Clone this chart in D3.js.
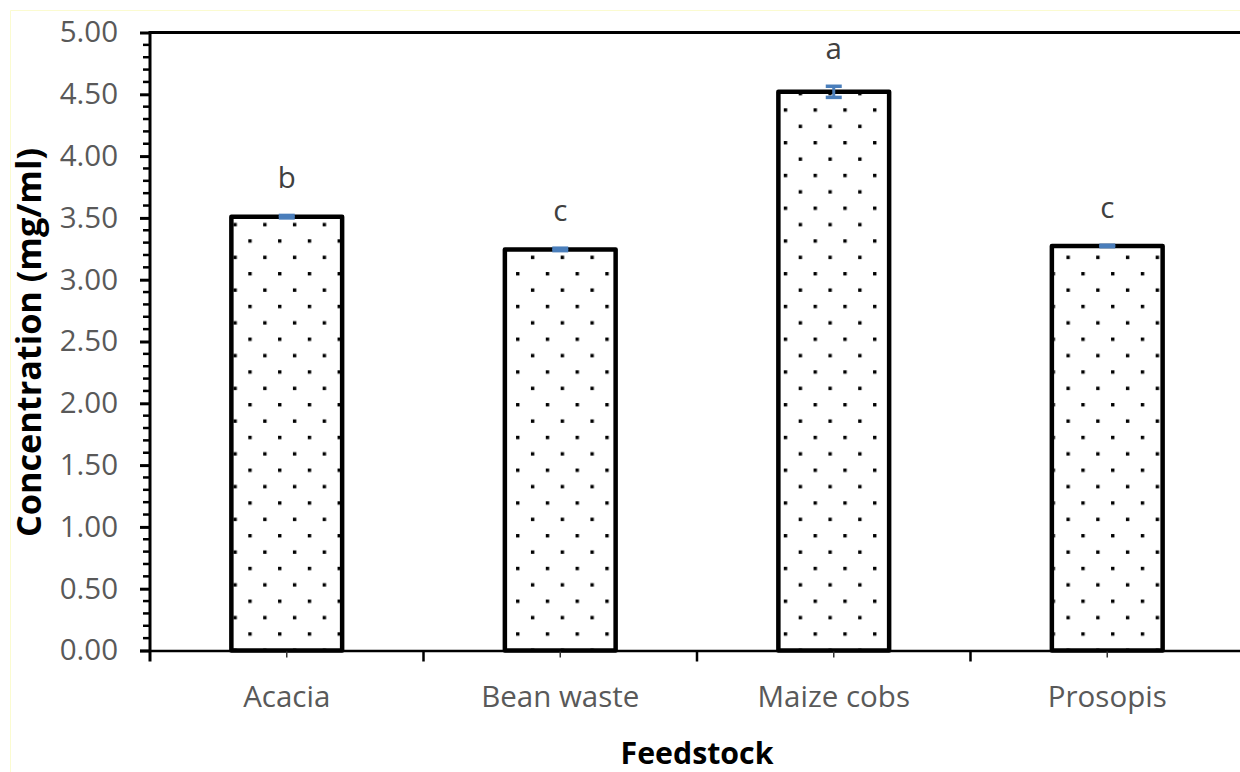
<!DOCTYPE html>
<html>
<head>
<meta charset="utf-8">
<script src="https://cdn.jsdelivr.net/npm/d3@7"></script>
<style>
    html, body { margin: 0; padding: 0; background: #fff; }
    svg { display: block; }
    svg text { font-family: "Open Sans", "Noto Sans", sans-serif; }
</style>
</head>
<body>
<svg id="chart" width="1240" height="772"></svg>
<script>
// Data
const feedstocks = ['Acacia', 'Bean waste', 'Maize cobs', 'Prosopis'];
const concentration = [3.51, 3.245, 4.52, 3.273];
const errors = [0.01, 0.01, 0.045, 0.006];
const letters = ['b', 'c', 'a', 'c'];
const yTicks = [0, 0.5, 1, 1.5, 2, 2.5, 3, 3.5, 4, 4.5, 5];

const margin = { top: 32.5, left: 150 };
const plotH = 618;
const bandW = 273.5;
const labelSize = '29.5px';

const svg = d3.select('#chart');

// shrink/grow a text so it spans the given width
function fitWidth(sel, width) {
    const node = sel.node();
    const size = parseFloat(sel.style('font-size'));
    const len = node.getComputedTextLength();
    sel.style('font-size', (size * width / len).toFixed(2) + 'px');
}

// faint yellow frame of the pasted picture
svg.append('path')
    .attr('d', 'M10.5,772 V10.5 H1240')
    .attr('fill', 'none')
    .attr('stroke', '#fbfbd0')
    .attr('stroke-width', 1);

const x = d3.scaleBand()
    .domain(feedstocks)
    .range([margin.left, margin.left + bandW * feedstocks.length])
    .padding(0);

const y = d3.scaleLinear()
    .domain([0, 5])
    .range([margin.top + plotH, margin.top]);

const barW = x.bandwidth() * 0.405;

// dotted fill pattern
const defs = svg.append('defs');
const pat = defs.append('pattern')
    .attr('id', 'dots')
    .attr('patternUnits', 'userSpaceOnUse')
    .attr('x', 248.3)
    .attr('y', 108.3)
    .attr('width', 29.75)
    .attr('height', 32.75);
pat.append('rect').attr('x', 0).attr('y', 0).attr('width', 3.4).attr('height', 3.4).attr('fill', '#000');
pat.append('rect').attr('x', 14.875).attr('y', 16.375).attr('width', 3.4).attr('height', 3.4).attr('fill', '#000');

// top border of plot area
svg.append('line')
    .attr('x1', margin.left).attr('x2', 1240)
    .attr('y1', y(5)).attr('y2', y(5))
    .attr('stroke', '#000').attr('stroke-width', 3);

// minor y ticks
const minor = d3.range(0, 51).map(d => d / 10).filter(d => Math.round(d * 10) % 5 !== 0);
svg.append('g')
    .selectAll('line')
    .data(minor)
    .join('line')
    .attr('x1', margin.left - 7).attr('x2', margin.left)
    .attr('y1', d => y(d)).attr('y2', d => y(d))
    .attr('stroke', '#000').attr('stroke-width', 2.5);

// major y axis
const yAxis = svg.append('g')
    .attr('transform', `translate(${margin.left},0)`)
    .call(d3.axisLeft(y).tickValues(yTicks).tickFormat(d3.format('.2f')).tickSize(10).tickPadding(22));
yAxis.attr('font-family', null).attr('font-size', null);
yAxis.select('.domain').remove();
yAxis.selectAll('.tick line').attr('stroke', '#000').attr('stroke-width', 3);
yAxis.selectAll('.tick text')
    .attr('fill', '#595959')
    .style('font-size', labelSize);

// bars
svg.append('g')
    .selectAll('rect')
    .data(feedstocks)
    .join('rect')
    .attr('x', d => x(d) + (x.bandwidth() - barW) / 2)
    .attr('y', (d, i) => y(concentration[i]))
    .attr('width', barW)
    .attr('height', (d, i) => y(0) - y(concentration[i]))
    .attr('fill', 'url(#dots)')
    .attr('stroke', '#000')
    .attr('stroke-width', 4.5)
    .attr('stroke-linejoin', 'round');

// x axis line
svg.append('line')
    .attr('x1', margin.left - 10).attr('x2', 1240)
    .attr('y1', y(0) + 0.5).attr('y2', y(0) + 0.5)
    .attr('stroke', '#000').attr('stroke-width', 2.5);

// y axis line
svg.append('line')
    .attr('x1', margin.left).attr('x2', margin.left)
    .attr('y1', y(5) - 1.5).attr('y2', y(0) + 11)
    .attr('stroke', '#000').attr('stroke-width', 3);

// category boundary ticks
svg.append('g')
    .selectAll('line')
    .data(feedstocks.slice(1))
    .join('line')
    .attr('x1', d => x(d)).attr('x2', d => x(d))
    .attr('y1', y(0)).attr('y2', y(0) + 11)
    .attr('stroke', '#000').attr('stroke-width', 2.5);

// x axis labels with small centre ticks
const xAxis = svg.append('g')
    .attr('transform', `translate(0,${y(0) + 1})`)
    .call(d3.axisBottom(x).tickSize(6).tickPadding(29));
xAxis.attr('font-family', null).attr('font-size', null);
xAxis.select('.domain').remove();
xAxis.selectAll('.tick line').attr('stroke', '#333').attr('stroke-width', 1.5);
xAxis.selectAll('.tick text')
    .attr('fill', '#595959')
    .style('font-size', labelSize);

// error bars
const errColor = '#4a7ebb';
const eb = svg.append('g')
    .selectAll('g')
    .data(feedstocks)
    .join('g')
    .attr('transform', d => `translate(${x(d) + x.bandwidth() / 2},0)`);
eb.append('line')
    .attr('y1', (d, i) => y(concentration[i] + errors[i]))
    .attr('y2', (d, i) => y(concentration[i] - errors[i]))
    .attr('stroke', errColor).attr('stroke-width', 3);
eb.append('line')
    .attr('x1', -8).attr('x2', 8)
    .attr('y1', (d, i) => y(concentration[i] + errors[i]))
    .attr('y2', (d, i) => y(concentration[i] + errors[i]))
    .attr('stroke', errColor).attr('stroke-width', 3.5);
eb.append('line')
    .attr('x1', -8).attr('x2', 8)
    .attr('y1', (d, i) => y(concentration[i] - errors[i]))
    .attr('y2', (d, i) => y(concentration[i] - errors[i]))
    .attr('stroke', errColor).attr('stroke-width', 3.5);

// significance letters
svg.append('g')
    .selectAll('text')
    .data(feedstocks)
    .join('text')
    .attr('x', d => x(d) + x.bandwidth() / 2)
    .attr('y', (d, i) => y(concentration[i] + errors[i]) - 27)
    .attr('text-anchor', 'middle')
    .attr('fill', '#404040')
    .style('font-size', labelSize)
    .text((d, i) => letters[i]);

// axis titles
const yTitle = svg.append('text')
    .attr('transform', `translate(41,${margin.top + plotH / 2 + 1}) rotate(-90)`)
    .attr('text-anchor', 'middle')
    .attr('font-weight', 'bold')
    .attr('fill', '#000')
    .style('font-size', '30px')
    .text('Concentration (mg/ml)');
fitWidth(yTitle, 389);

const xTitle = svg.append('text')
    .attr('x', margin.left + bandW * 2)
    .attr('y', 764)
    .attr('text-anchor', 'middle')
    .attr('font-weight', 'bold')
    .attr('fill', '#000')
    .style('font-size', '30px')
    .text('Feedstock');
fitWidth(xTitle, 153);
</script>
</body>
</html>
